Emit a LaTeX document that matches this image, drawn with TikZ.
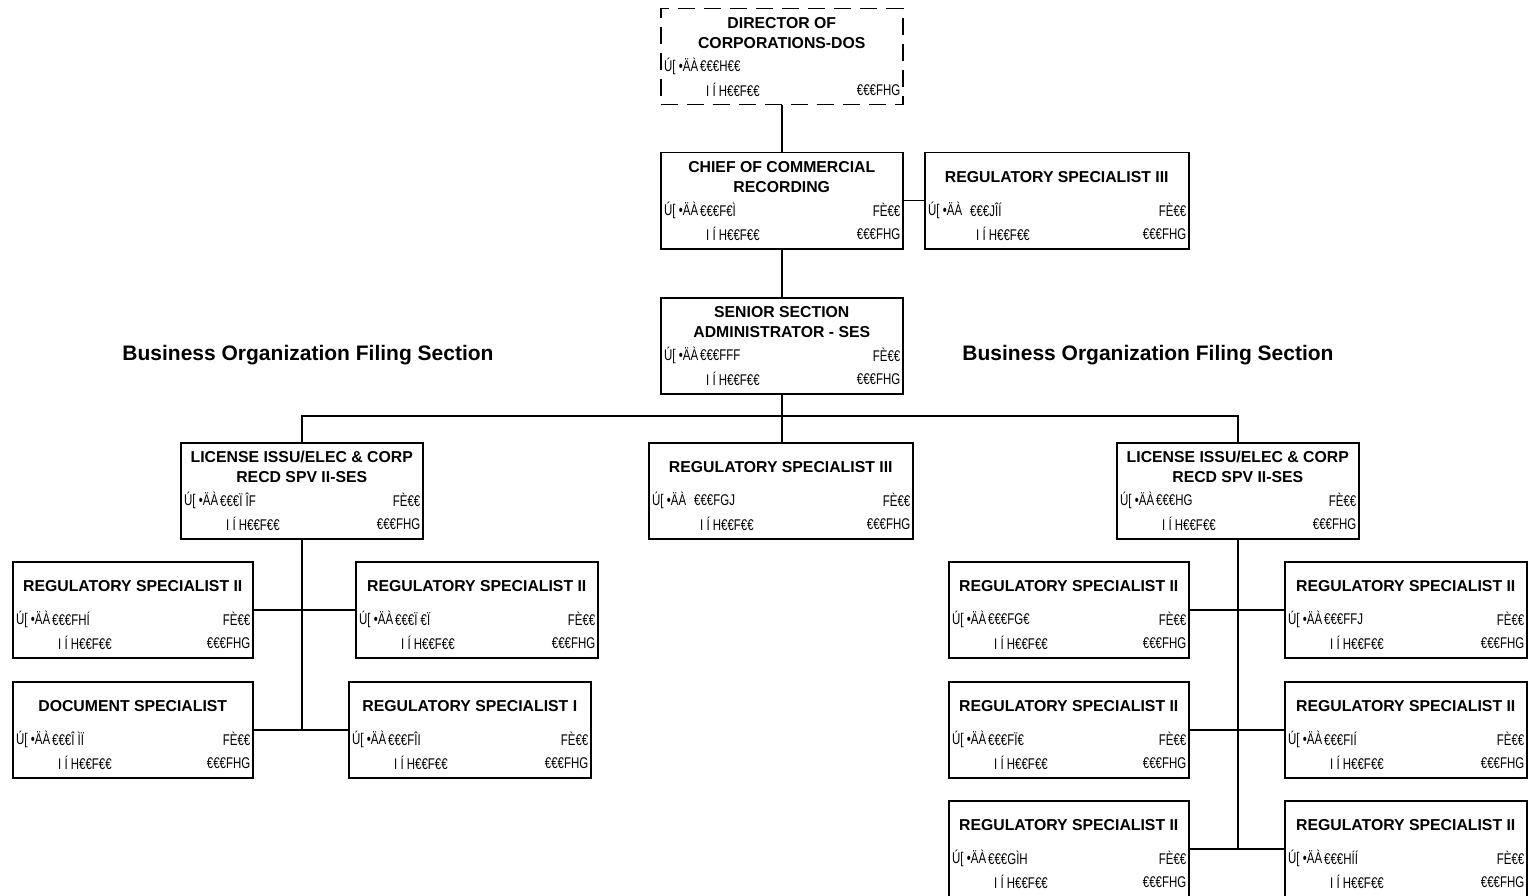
\documentclass[tikz,border=0pt]{standalone}
\usepackage{fontspec}
\setmainfont{Liberation Sans}
\newfontfamily\codefont[FakeStretch=0.74]{Liberation Sans}
\usetikzlibrary{calc}

\tikzset{
  unitbox/.style={draw, line width=1.5pt, minimum height=96pt, inner sep=0pt, anchor=north west},
  wire/.style={line width=1.5pt},
  dashedbox/.style={dash pattern=on 17pt off 9pt},
  titletext/.style={font=\bfseries\fontsize{15.8}{19.5}\selectfont, align=center, inner sep=0pt},
  codetext/.style={font=\codefont\fontsize{15.5}{16}\selectfont, inner sep=0pt},
  sectiontext/.style={font=\bfseries\fontsize{21}{24}\selectfont, inner sep=0pt}
}

% [#1 extra box style] #2 name, #3 left, #4 top, #5 width, #6 title, #7 code, #8 right code, #9 code indent
\newcommand\orgunit[9][]{%
  \node[unitbox, minimum width=#5, #1] (#2) at (#3,#4) {};
  \node[titletext] (#2-t) at ($(#2.north)+(0,25)$) {#6};
  \node[codetext, anchor=west] (#2-a) at ($(#2.north west)+(4,58)$) {Ú[ •ÄÀ};
  \node[codetext, anchor=west] (#2-b) at ($(#2.north west)+(#9,58)$) {#7};
  \node[codetext, anchor=east] (#2-c) at ($(#2.north east)+(-3,58)$) {#8};
  \node[codetext, anchor=west] (#2-d) at ($(#2.north west)+(#9+6,82)$) {I Í H€€F€€};
  \node[codetext, anchor=east] (#2-e) at ($(#2.north east)+(-3,82)$) {€€€FHG};
}

\begin{document}
\begin{tikzpicture}[x=1pt,y=-1pt]
\useasboundingbox (0,0) rectangle (1528,896);

% top of the hierarchy
\orgunit[dashedbox]{dir}{660}{8}{242}{DIRECTOR OF\\CORPORATIONS-DOS}{€€€H€€}{}{40}
\orgunit{chief}{660}{152}{242}{CHIEF OF COMMERCIAL\\RECORDING}{€€€F€Ì}{FÈ€€}{40}
\orgunit{rsTop}{924}{152}{264}{REGULATORY SPECIALIST III}{€€€JÎÍ}{FÈ€€}{46}
\orgunit{senior}{660}{297}{242}{SENIOR SECTION\\ADMINISTRATOR - SES}{€€€FFF}{FÈ€€}{40}

% section headings
\node[sectiontext] (secL) at (308,355) {Business Organization Filing Section};
\node[sectiontext] (secR) at (1148,355) {Business Organization Filing Section};

% second level
\orgunit{licL}{180}{442}{242}{LICENSE ISSU/ELEC \& CORP\\RECD SPV II-SES}{€€€Ï ÎF}{FÈ€€}{40}
\orgunit{rsMid}{648}{442}{264}{REGULATORY SPECIALIST III}{€€€FGJ}{FÈ€€}{46}
\orgunit{licR}{1116}{442}{242}{LICENSE ISSU/ELEC \& CORP\\RECD SPV II-SES}{€€€HG}{FÈ€€}{40}

% left group
\orgunit{lA}{12}{561}{240}{REGULATORY SPECIALIST II}{€€€FHÍ}{FÈ€€}{40}
\orgunit{lB}{355}{561}{242}{REGULATORY SPECIALIST II}{€€€Ï €Ï}{FÈ€€}{40}
\orgunit{lC}{12}{681}{240}{DOCUMENT SPECIALIST}{€€€Î ÌÏ}{FÈ€€}{40}
\orgunit{lD}{348}{681}{242}{REGULATORY SPECIALIST I}{€€€FÎI}{FÈ€€}{40}

% right group
\orgunit{rA}{948}{561}{240}{REGULATORY SPECIALIST II}{€€€FG€}{FÈ€€}{40}
\orgunit{rB}{1284}{561}{242}{REGULATORY SPECIALIST II}{€€€FFJ}{FÈ€€}{40}
\orgunit{rC}{948}{681}{240}{REGULATORY SPECIALIST II}{€€€FÏ€}{FÈ€€}{40}
\orgunit{rD}{1284}{681}{242}{REGULATORY SPECIALIST II}{€€€FIÍ}{FÈ€€}{40}
\orgunit{rE}{948}{800}{240}{REGULATORY SPECIALIST II}{€€€GÌH}{FÈ€€}{40}
\orgunit{rF}{1284}{800}{242}{REGULATORY SPECIALIST II}{€€€HÍÍ}{FÈ€€}{40}

% connectors
\draw[wire] (dir.south) -- (chief.north);
\draw[wire] (chief.east) -- (rsTop.west);
\draw[wire] (chief.south) -- (senior.north);
\draw[wire] (senior.south) -- (senior.south |- rsMid.north);
\draw[wire] (licL.north) -- ++(0,-26) -| (licR.north);

\draw[wire] (licL.south) -- (licL.south |- lC.east);
\draw[wire] (lA.east) -- (lB.west);
\draw[wire] (lC.east) -- (lD.west);

\draw[wire] (licR.south) -- (licR.south |- rE.east);
\draw[wire] (rA.east) -- (rB.west);
\draw[wire] (rC.east) -- (rD.west);
\draw[wire] (rE.east) -- (rF.west);
\end{tikzpicture}
\end{document}
